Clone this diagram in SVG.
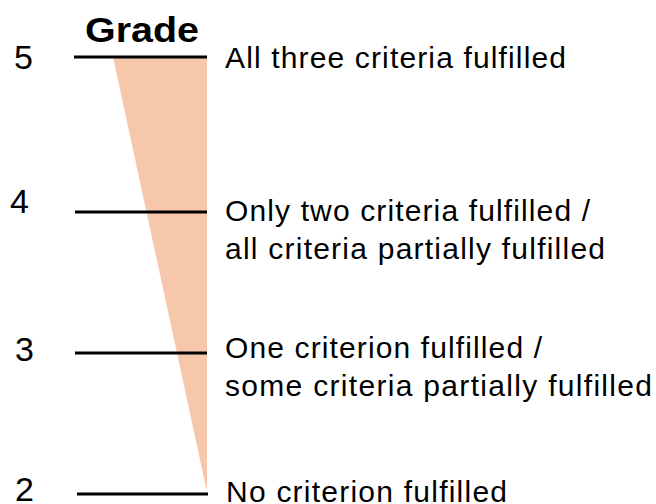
<svg xmlns="http://www.w3.org/2000/svg" width="656" height="504" viewBox="0 0 656 504">
<style>
.num{font-family:"Liberation Sans",Arial,sans-serif;font-size:34px;fill:#000}
.lbl{font-family:"Liberation Sans",Arial,sans-serif;font-size:30px;fill:#000}
.title{font-family:"Liberation Sans",Arial,sans-serif;font-size:35px;font-weight:bold;fill:#000}
.tick{stroke:#000;stroke-width:3;fill:none}
</style>
<rect width="656" height="504" fill="#fff"/>
<g id="wedge">
<polygon points="113,57 207,57 207,492" fill="#F7C7AC"/>
</g>
<g id="title">
<text class="title" x="85" y="42" textLength="114" lengthAdjust="spacingAndGlyphs">Grade</text>
</g>
<g id="connectors">
<line class="tick" x1="74" y1="57" x2="207" y2="57"/>
<line class="tick" x1="75" y1="212" x2="207" y2="212"/>
<line class="tick" x1="75" y1="353" x2="207" y2="353"/>
<line class="tick" x1="77" y1="494" x2="208" y2="494"/>
</g>
<g id="grade5">
<text class="num" x="14" y="69">5</text>
<text class="lbl" x="225" y="68" textLength="341">All three criteria fulfilled</text>
</g>
<g id="grade4">
<text class="num" x="10" y="213">4</text>
<text class="lbl" x="225" y="221" textLength="365">Only two criteria fulfilled /</text>
<text class="lbl" x="225" y="259" textLength="380">all criteria partially fulfilled</text>
</g>
<g id="grade3">
<text class="num" x="15" y="361">3</text>
<text class="lbl" x="225" y="358" textLength="317">One criterion fulfilled /</text>
<text class="lbl" x="225" y="396" textLength="427">some criteria partially fulfilled</text>
</g>
<g id="grade2">
<text class="num" x="15" y="501">2</text>
<text class="lbl" x="226" y="502" textLength="281">No criterion fulfilled</text>
</g>
</svg>
